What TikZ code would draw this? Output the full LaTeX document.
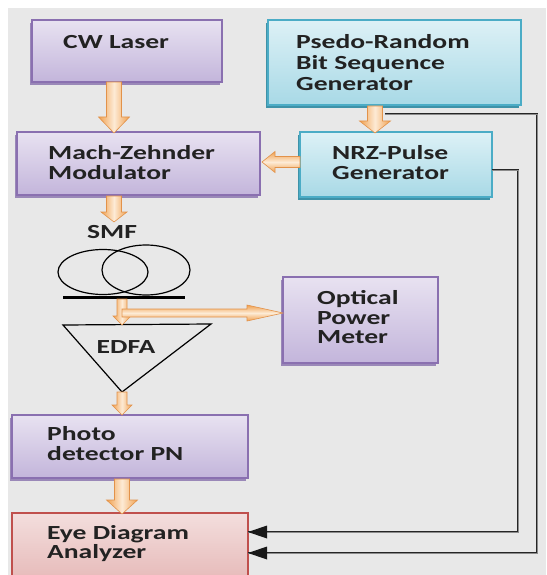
\documentclass[tikz,border=0pt]{standalone}
\usepackage{fontspec}
\newfontfamily\lbl{Carlito}[FakeStretch=1.38]
\usetikzlibrary{arrows.meta,calc,shapes.geometric,shadows}
\definecolor{bg}{HTML}{E8E8E8}
\definecolor{tcol}{HTML}{222222}
\definecolor{pborder}{HTML}{8A70B0}
\definecolor{ptop}{HTML}{E8E2F1}
\definecolor{pbot}{HTML}{C3B5DB}
\definecolor{pshadow}{HTML}{9A88B8}
\definecolor{bborder}{HTML}{4BACC6}
\definecolor{btop}{HTML}{DDF1F6}
\definecolor{bbot}{HTML}{A8D9E6}
\definecolor{bshadow}{HTML}{3E92A8}
\definecolor{rborder}{HTML}{C0504D}
\definecolor{rtop}{HTML}{F3DEDD}
\definecolor{rbot}{HTML}{E5B6B5}
\definecolor{ora}{HTML}{F0A04E}
\definecolor{oral}{HTML}{FDEBD6}
\definecolor{oraline}{HTML}{E2924A}
\newcommand{\vblockarrow}[5]{%
  \path[blk, left color=ora, right color=ora, middle color=oral]
    let \p1=(#1), \p2=(#2) in
    (\x1-#3,\y1) -- (\x1+#3,\y1) -- (\x1+#3,\y2+#5) -- (\x1+#4,\y2+#5)
    -- (\x1,\y2) -- (\x1-#4,\y2+#5) -- (\x1-#3,\y2+#5) -- cycle;}
\newcommand{\hblockarrow}[6]{% #6 = direction (+1 right, -1 left)
  \path[blk, top color=ora, bottom color=ora, middle color=oral]
    let \p1=(#1), \p2=(#2) in
    (\x1,\y1-#3) -- (\x1,\y1+#3) -- (\x2-#6*#5,\y1+#3) -- (\x2-#6*#5,\y1+#4)
    -- (\x2,\y1) -- (\x2-#6*#5,\y1-#4) -- (\x2-#6*#5,\y1-#3) -- cycle;}
\begin{document}
\begin{tikzpicture}[x=1pt,y=-1pt,
  box/.style={draw, line width=1.5pt, anchor=north west, inner sep=0pt, outer sep=0pt},
  pbox/.style={box, draw=pborder, top color=ptop, bottom color=pbot,
    drop shadow={shadow xshift=-2pt, shadow yshift=-3pt, fill=pshadow, opacity=1}},
  bbox/.style={box, draw=bborder, top color=btop, bottom color=bbot,
    drop shadow={shadow xshift=-2pt, shadow yshift=-3pt, fill=bshadow, opacity=1}},
  rbox/.style={box, draw=rborder, top color=rtop, bottom color=rbot},
  txt/.style={font=\lbl\bfseries\fontsize{20}{19.5}\selectfont, text=tcol, inner sep=0pt, align=left, anchor=base west},
  ctxt/.style={txt, anchor=base},
  blk/.style={draw=oraline, line width=0.6pt},
  wire/.style={draw=black!85, line width=0.8pt, double=black!45, double distance=0.9pt}
]
\useasboundingbox (0,0) rectangle (546,575);
\fill[white] (0,0) rectangle (546,575);
\fill[bg] (8,8) rectangle (546,575);

% boxes
\node[pbox, minimum width=190pt, minimum height=62pt] (cw) at (32,20) {};
\node[bbox, minimum width=253pt, minimum height=85pt] (prbs) at (268,20) {};
\node[pbox, minimum width=243pt, minimum height=63pt] (mz) at (17,132) {};
\node[bbox, minimum width=192pt, minimum height=65pt] (nrz) at (300,132) {};
\node[pbox, minimum width=155pt, minimum height=86pt] (opm) at (283,277) {};
\node[pbox, minimum width=236pt, minimum height=63pt] (pd) at (12,415) {};
\node[rbox, minimum width=236pt, minimum height=75pt] (eye) at (12,513) {};

% texts (anchor = baseline of the last line)
\node[txt] (cwt) at (63,48.5) {CW Laser};
\node[txt] (prbst) at (296,90.5) {Psedo-Random\\[1.5pt]Bit Sequence\\[1.5pt]Generator};
\node[txt] (mzt) at (48,179) {Mach-Zehnder\\Modulator};
\node[txt] (nrzt) at (332,179) {NRZ-Pulse\\Generator};
\node[txt] (opmt) at (317,343.5) {Optical\\Power\\Meter};
\node[txt] (pdt) at (47,460) {Photo\\detector PN};
\node[txt] (eyet) at (47,558.5) {Eye Diagram\\Analyzer};
\node[ctxt] (smf) at (112,238.5) {SMF};

% fibre coil
\node[draw, ellipse, line width=1.2pt, minimum width=90pt, minimum height=45pt, inner sep=0pt] (c1) at (103,272) {};
\node[draw, ellipse, line width=1.2pt, minimum width=88pt, minimum height=50pt, inner sep=0pt] (c2) at (146,270) {};
\coordinate (bl) at (63,297);
\coordinate (br) at (185,297);
\draw[line width=3pt] (bl) -- (br);

% EDFA triangle
\coordinate (ta) at (63,325);
\coordinate (tb) at (211,324);
\coordinate (tc) at (122,392);
\draw[line width=1.2pt, line join=miter] (ta) -- (tb) -- (tc) -- cycle;
\node[ctxt] (edfa) at (126,353.5) {EDFA};

% block arrows
\coordinate (a1s) at (114,82);
\coordinate (a1e) at (114,133);
\vblockarrow{a1s}{a1e}{7.5}{15.5}{16}
\coordinate (a2s) at (114,196);
\coordinate (a2e) at (114,222);
\vblockarrow{a2s}{a2e}{7.5}{13}{10}
\coordinate (a3s) at (375,106);
\coordinate (a3e) at (375,133);
\vblockarrow{a3s}{a3e}{7.5}{15.5}{12}
\coordinate (a4s) at (300,162);
\coordinate (a4e) at (262,162);
\hblockarrow{a4s}{a4e}{5.5}{10.5}{13}{-1}
\coordinate (a5s) at (122,299);
\coordinate (a5e) at (122,325);
\vblockarrow{a5s}{a5e}{5}{9}{9}
\coordinate (a6s) at (122,313);
\hblockarrow{a6s}{opm.west |- a6s}{4}{8}{36}{1}
\coordinate (a7s) at (122,392);
\coordinate (a7e) at (122,415);
\vblockarrow{a7s}{a7e}{5}{10}{10}
\coordinate (a8s) at (122,479);
\coordinate (a8e) at (122,514);
\vblockarrow{a8s}{a8e}{7.5}{15.5}{14}

% signal wires
\coordinate (w1a) at (385,114);
\coordinate (w1b) at (537,114);
\coordinate (w1c) at (537,553);
\coordinate (w2a) at (492,170);
\coordinate (w2b) at (518,170);
\coordinate (w2c) at (518,532);
\draw[wire] (w1a) -- (w1b) -- (w1c) -- (eye.east |- w1c);
\draw[wire] (w2a) -- (w2b) -- (w2c) -- (eye.east |- w2c);
\fill[black!90] (eye.east |- w1c) -- ++(19,-6.5) -- ++(0,13) -- cycle;
\fill[black!90] (eye.east |- w2c) -- ++(19,-6.5) -- ++(0,13) -- cycle;
\end{tikzpicture}
\end{document}
